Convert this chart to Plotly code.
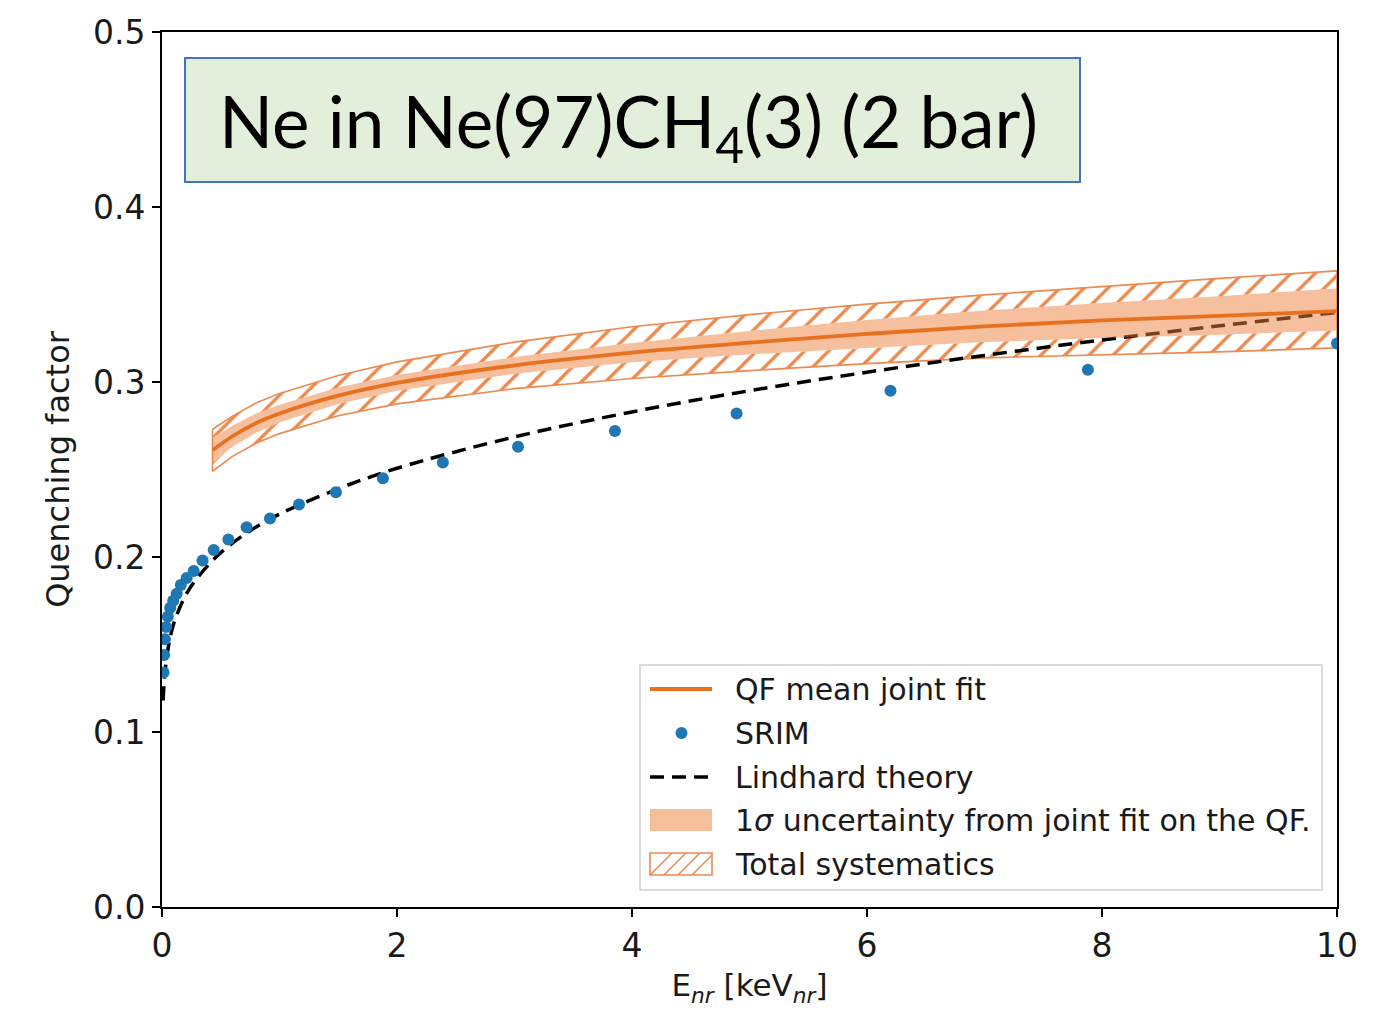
import plotly.graph_objects as go

# ---------------- data ----------------
# Lindhard theory curve
lind_x = [0.01, 0.02, 0.05, 0.1, 0.2, 0.3, 0.5, 0.75, 1.0, 1.5, 2.0, 3.0, 4.0, 5.0, 6.0, 7.0, 8.0, 9.0, 10.0]
lind_y = [0.118, 0.130, 0.147, 0.162, 0.178, 0.188, 0.2025, 0.215, 0.2245, 0.239, 0.2507, 0.2686, 0.2829,
          0.295, 0.3056, 0.3152, 0.324, 0.3321, 0.3397]

# SRIM points
srim_x = [10.0, 7.88, 6.20, 4.89, 3.855, 3.03, 2.39, 1.88, 1.48, 1.166, 0.919, 0.72, 0.565, 0.44, 0.345,
          0.27, 0.21, 0.16, 0.125, 0.095, 0.07, 0.05, 0.035, 0.025, 0.018, 0.013]
srim_y = [0.322, 0.307, 0.295, 0.282, 0.272, 0.263, 0.254, 0.245, 0.237, 0.230, 0.222, 0.217, 0.210, 0.204,
          0.198, 0.192, 0.188, 0.184, 0.179, 0.175, 0.171, 0.166, 0.160, 0.153, 0.144, 0.134]

# QF mean joint fit and its bands
qf_x = [0.43, 0.6, 0.8, 1.0, 1.5, 2.0, 3.0, 4.0, 5.0, 6.0, 7.0, 8.0, 9.0, 10.0]
qf_mean = [0.261, 0.269, 0.2765, 0.282, 0.2922, 0.2995, 0.3095, 0.3168, 0.3225, 0.3275, 0.3318, 0.3352, 0.3378, 0.3405]
sig_up = [0.268, 0.275, 0.282, 0.287, 0.2969, 0.304, 0.3143, 0.3223, 0.3292, 0.3355, 0.3408, 0.3452, 0.3490, 0.3535]
sig_lo = [0.254, 0.263, 0.271, 0.277, 0.2875, 0.295, 0.3047, 0.3113, 0.3158, 0.3195, 0.3228, 0.3252, 0.3270, 0.3295]
tot_up = [0.273, 0.2805, 0.288, 0.2935, 0.3037, 0.3115, 0.3228, 0.3316, 0.3385, 0.3445, 0.3498, 0.3547, 0.3592, 0.3635]
tot_lo = [0.249, 0.2575, 0.265, 0.2705, 0.2807, 0.2875, 0.2962, 0.302, 0.3065, 0.3105, 0.3138, 0.3157, 0.3172, 0.3195]

x_ticks = [0, 2, 4, 6, 8, 10]
y_ticks = [0.0, 0.1, 0.2, 0.3, 0.4, 0.5]

legend_labels = ["QF mean joint fit", "SRIM", "Lindhard theory",
                 "1<i>σ</i> uncertainty from joint fit on the QF.", "Total systematics"]

# ---------------- styling ----------------
ORANGE = "#e8711f"
HATCH = "#ec8a4f"
SIGMA_FILL = "rgba(238,128,60,0.5)"
SIGMA_ICON = "#f5bf9b"
BLUE = "#1f77b4"
FONT = "DejaVu Sans"
TXT = "#1a1a1a"

fig = go.Figure()

rx = list(reversed(qf_x))
hatch_pattern = dict(shape="/", fgcolor=HATCH, bgcolor="rgba(255,255,255,0)", size=17, solidity=0.2,
                     fillmode="replace")

# hatched total-systematics regions (above and below the 1 sigma band)
fig.add_trace(go.Scatter(
    x=qf_x + rx, y=tot_up + list(reversed(sig_up)),
    mode="lines", line=dict(width=0), fill="toself", fillcolor="rgba(255,255,255,0)",
    fillpattern=hatch_pattern, name=legend_labels[4], showlegend=False, hoverinfo="skip"))
fig.add_trace(go.Scatter(
    x=qf_x + rx, y=sig_lo + list(reversed(tot_lo)),
    mode="lines", line=dict(width=0), fill="toself", fillcolor="rgba(255,255,255,0)",
    fillpattern=hatch_pattern, showlegend=False, hoverinfo="skip"))
# outline of total band
fig.add_trace(go.Scatter(
    x=qf_x + rx + [qf_x[0]], y=tot_up + list(reversed(tot_lo)) + [tot_up[0]],
    mode="lines", line=dict(color=HATCH, width=1.6), showlegend=False, hoverinfo="skip"))

# Lindhard theory
fig.add_trace(go.Scatter(
    x=lind_x, y=lind_y, mode="lines", line=dict(color="black", width=3.5, dash="14px,8px", shape="spline"),
    name=legend_labels[2], showlegend=False))

# SRIM
fig.add_trace(go.Scatter(
    x=srim_x, y=srim_y, mode="markers", marker=dict(color=BLUE, size=12),
    name=legend_labels[1], showlegend=False))

# 1 sigma band
fig.add_trace(go.Scatter(
    x=qf_x + rx, y=sig_up + list(reversed(sig_lo)),
    mode="lines", line=dict(width=0), fill="toself", fillcolor=SIGMA_FILL,
    name=legend_labels[3], showlegend=False, hoverinfo="skip"))

# mean fit
fig.add_trace(go.Scatter(
    x=qf_x, y=qf_mean, mode="lines", line=dict(color=ORANGE, width=3.8, shape="spline"),
    name=legend_labels[0], showlegend=False))

# ---------------- geometry (reference pixel positions of the plot area) ----------------
L, R, T, B = 162, 1337, 32, 907
W, H = 1398, 1010
OFF = 8  # page body margin


def px(xp):
    return (xp - L) / (R - L)


def py(yp):
    return (B - yp) / (B - T)


# title box
fig.add_shape(type="rect", xref="paper", yref="paper",
              x0=px(185), x1=px(1080), y0=py(182), y1=py(58),
              fillcolor="#e2efda", line=dict(color="#4472c4", width=2), layer="above")
fig.add_annotation(xref="paper", yref="paper", x=px(628), y=py(126), xanchor="center", yanchor="middle",
                   text="Ne in Ne(97)CH<sub>4</sub>(3) (2 bar)", showarrow=False,
                   font=dict(family="Lato", size=71, color="black"))

# ---------------- legend (drawn as layout items) ----------------
fig.add_shape(type="rect", xref="paper", yref="paper",
              x0=px(640), x1=px(1322), y0=py(890), y1=py(665),
              fillcolor="rgba(255,255,255,0.85)", line=dict(color="#d0d0d0", width=1.5), layer="above")
rows = [689, 733, 777, 820, 864]
ix0, ix1 = 650, 712
# QF mean line icon
fig.add_shape(type="line", xref="paper", yref="paper", x0=px(ix0), x1=px(ix1), y0=py(rows[0]), y1=py(rows[0]),
              line=dict(color=ORANGE, width=3.8), layer="above")
# SRIM dot icon
fig.add_shape(type="circle", xref="paper", yref="paper", x0=px(675.5), x1=px(687.5),
              y0=py(rows[1] + 6), y1=py(rows[1] - 6), fillcolor=BLUE, line=dict(width=0), layer="above")
# Lindhard dashed icon
fig.add_shape(type="line", xref="paper", yref="paper", x0=px(ix0), x1=px(ix1), y0=py(rows[2]), y1=py(rows[2]),
              line=dict(color="black", width=3.5, dash="14px,8px"), layer="above")
# 1 sigma fill icon
fig.add_shape(type="rect", xref="paper", yref="paper", x0=px(ix0), x1=px(ix1),
              y0=py(rows[3] + 11), y1=py(rows[3] - 11), fillcolor=SIGMA_ICON, line=dict(width=0), layer="above")
# hatched icon
hy0, hy1 = rows[4] + 11, rows[4] - 11
fig.add_shape(type="rect", xref="paper", yref="paper", x0=px(ix0), x1=px(ix1),
              y0=py(hy0), y1=py(hy1), fillcolor="rgba(0,0,0,0)", line=dict(color=HATCH, width=1.6),
              layer="above")
for sx in [650, 664, 678, 692]:
    ex = min(sx + 22, ix1)
    ey = hy0 - (ex - sx)
    fig.add_shape(type="line", xref="paper", yref="paper", x0=px(sx), x1=px(ex), y0=py(hy0), y1=py(ey),
                  line=dict(color=HATCH, width=1.6), layer="above")
for lab, ry in zip(legend_labels, rows):
    fig.add_annotation(xref="paper", yref="paper", x=px(733), y=py(ry), xanchor="left", yanchor="middle",
                       text=lab, showarrow=False, font=dict(family=FONT, size=30, color=TXT))

axis_common = dict(
    showline=True, linecolor="black", linewidth=2, mirror=True,
    ticks="outside", ticklen=8, tickwidth=2, tickcolor="black",
    showgrid=False, zeroline=False,
    tickfont=dict(family=FONT, size=33, color=TXT),
)

fig.update_layout(
    width=W, height=H,
    margin=dict(l=L - OFF, r=W - R + OFF, t=T - OFF, b=H - B + OFF),
    plot_bgcolor="white", paper_bgcolor="white",
    xaxis=dict(range=[0, 10], tickvals=x_ticks, ticktext=[str(v) for v in x_ticks],
               title=dict(text="E<sub><i>nr</i></sub> [keV<sub><i>nr</i></sub>]", standoff=11,
                          font=dict(family=FONT, size=31, color=TXT)),
               automargin=False, **axis_common),
    yaxis=dict(range=[0, 0.5], tickvals=y_ticks, ticktext=[f"{v:.1f}" for v in y_ticks],
               title=dict(text="Quenching factor", standoff=14,
                          font=dict(family=FONT, size=32, color=TXT)),
               automargin=False, **axis_common),
    showlegend=False,
)

fig.write_html("out.html")
